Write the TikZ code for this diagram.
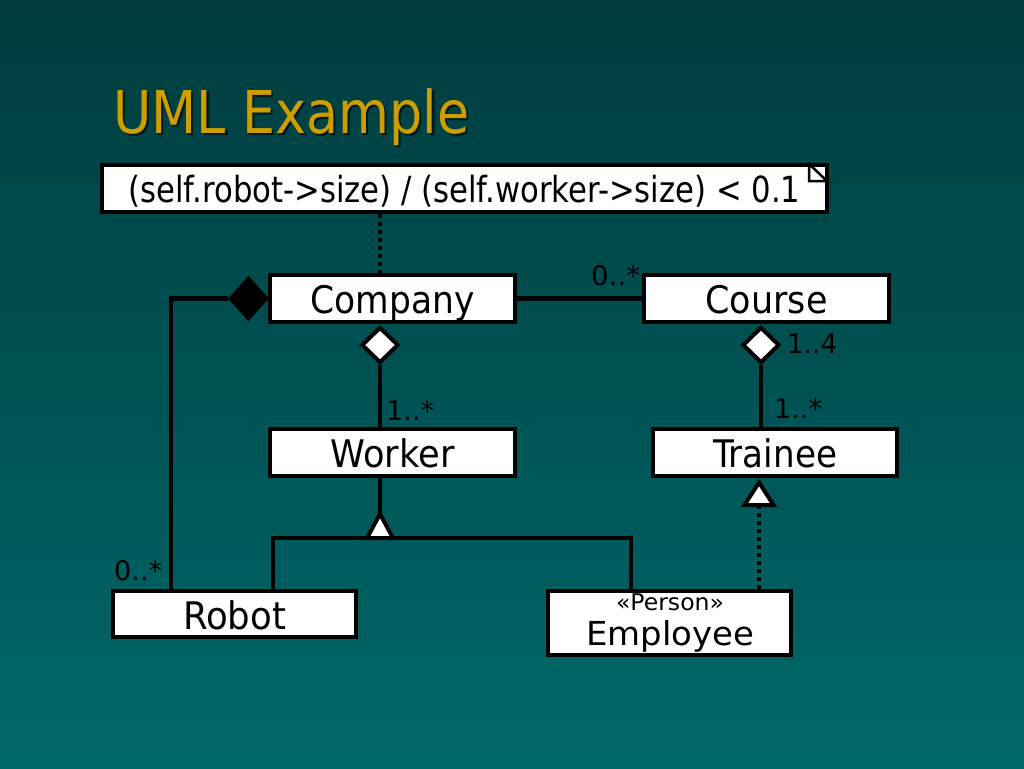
\documentclass[tikz,border=0pt]{standalone}
\usepackage{fontspec}
\setmainfont{DejaVu Sans}
\usetikzlibrary{shapes.geometric,calc}
\definecolor{bgtop}{RGB}{0,60,62}
\definecolor{bgbot}{RGB}{0,104,104}
\definecolor{titlegold}{RGB}{206,158,0}
\definecolor{titleshade}{RGB}{0,25,25}
\newcommand{\fitt}[3]{\resizebox{#1pt}{\height}{\fontsize{#2pt}{#2pt}\selectfont #3}}
\begin{document}
\begin{tikzpicture}[x=1pt,y=-1pt,
  cls/.style={draw=black, fill=white, line width=4pt, inner sep=0pt,
    minimum width=245pt, minimum height=47pt, text height=30pt, text depth=0pt},
  conn/.style={draw=black, line width=4.6pt},
  dotline/.style={draw=black, line width=4.6pt, dash pattern=on 4pt off 4pt},
  mult/.style={anchor=base west, inner sep=0pt, text=black},
  aggr/.style={diamond, draw=black, fill=white, line width=4pt, inner sep=0pt,
    minimum width=37pt, minimum height=36pt},
  compo/.style={diamond, draw=black, fill=black, line width=4pt, inner sep=0pt,
    minimum width=37pt, minimum height=41pt},
  tri/.style={draw=black, fill=white, line width=4pt, line join=miter}
]
\useasboundingbox (0,0) rectangle (1024,768);
\shade[top color=bgtop, bottom color=bgbot] (0,0) rectangle (1024,768);

% title (with its drop shadow in the same text)
\node[anchor=base west, inner sep=0pt] (title) at (113,133)
  {\rlap{\hspace{2.5pt}\raisebox{-2.5pt}{\color{titleshade}\fitt{356}{59}{UML Example}}}\color{titlegold}\fitt{356}{59}{UML Example}};

% helper x positions
\coordinate (cx) at (380,0);
\coordinate (kx) at (761,0);
\coordinate (rx) at (759,0);
\coordinate (lx) at (171,0);
\coordinate (glx) at (273,0);
\coordinate (grx) at (631,0);
\coordinate (j) at (380,538);
\coordinate (tapex) at (380,514);
\coordinate (rapex) at (759,482.5);
\coordinate (rbase) at (759,505);

% note / constraint
\node[cls, minimum width=725pt, text height=27pt] (note) at (464.5,188.5) {\fitt{672}{36}{(self.robot->size) / (self.worker->size) < 0.1}};
\draw[black, line width=2.5pt, fill=white, line join=miter]
  ($(note.north east)+(-20,1)$) -- ($(note.north east)+(-20,18)$) -- ($(note.north east)+(-2,18)$) -- cycle;

% classes
\node[cls] (company) at (392.5,298.5) {\fitt{164}{38}{Company}};
\node[cls] (course) at (766.5,298.5) {\fitt{122}{38}{Course}};
\node[cls] (worker) at (392.5,452.5) {\fitt{124}{38}{Worker}};
\node[cls, minimum width=244pt] (trainee) at (775,452.5) {\fitt{124}{38}{Trainee}};
\node[cls, minimum width=243pt, minimum height=46pt] (robot) at (234.5,614) {\fitt{103}{38}{Robot}};
\node[cls, minimum width=243pt, minimum height=64pt] (employee) at (669.5,623) {};
\node[anchor=base, inner sep=0pt] (stereo) at ($(employee.north)+(0.5,21)$) {\fitt{108}{23}{«Person»}};
\node[anchor=base, inner sep=0pt] (emplabel) at ($(employee.north)+(0.5,56)$) {\fitt{168}{33}{Employee}};

% constraint link
\draw[dotline] (note.south -| cx) -- (company.north -| cx);

% association Company - Course
\draw[conn] (company.east) -- (course.west);

% composition Company - Robot
\node[compo, anchor=east] (dcomp) at ($(company.west)+(1,0)$) {};
\draw[conn] (dcomp.west) -| (robot.north -| lx);

% aggregation Company - Worker
\node[aggr, anchor=north] (dcw) at ($(company.south -| cx)+(0,1)$) {};
\draw[conn] (dcw.south) -- (worker.north -| cx);

% aggregation Course - Trainee
\node[aggr, anchor=north] (dct) at ($(course.south -| kx)+(0,1)$) {};
\draw[conn] (dct.south) -- (trainee.north -| kx);

% generalization Robot, Employee -> Worker
\draw[conn] (robot.north -| glx) -- (glx |- j) -- (grx |- j) -- (employee.north -| grx);
\draw[conn] (tapex) -- (worker.south -| j);
\draw[tri] ($(j)+(-13,0)$) -- ($(j)+(13,0)$) -- (tapex) -- cycle;

% realization Employee -> Trainee
\draw[dotline] (employee.north -| rx) -- (rbase);
\draw[tri] ($(rbase)+(-14.5,0)$) -- ($(rbase)+(14.5,0)$) -- (rapex) -- cycle;

% multiplicities
\node[mult] (m1) at (591,285) {\fitt{49}{27}{0..*}};
\node[mult] (m2) at (787,353) {\fitt{50}{27}{1..4}};
\node[mult] (m3) at (774,418) {\fitt{48}{27}{1..*}};
\node[mult] (m4) at (386,420) {\fitt{48}{27}{1..*}};
\node[mult] (m5) at (114,580) {\fitt{48}{27}{0..*}};
\end{tikzpicture}
\end{document}
